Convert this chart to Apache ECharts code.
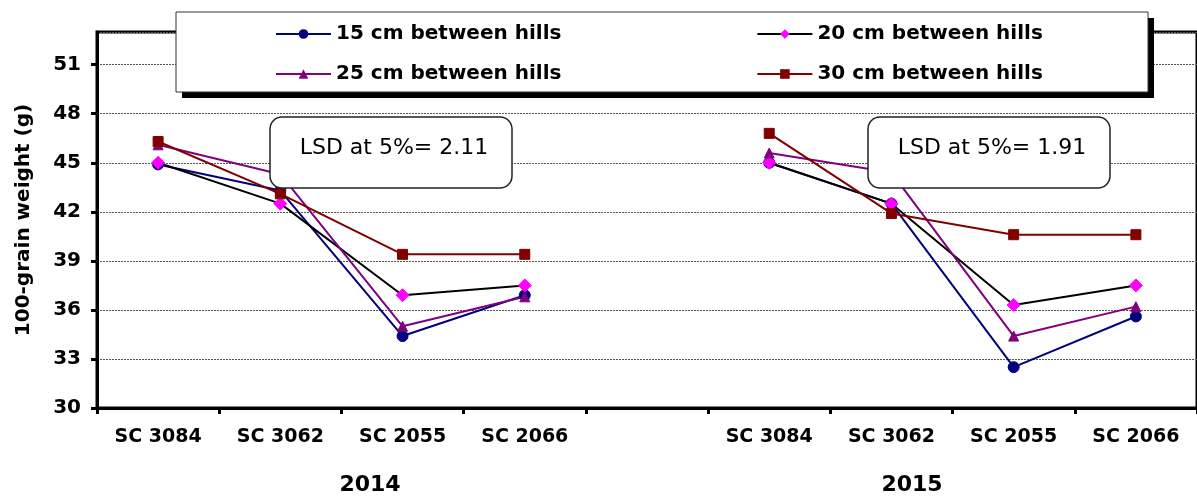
<!DOCTYPE html>
<html><head><meta charset="utf-8">
<script src="https://cdn.jsdelivr.net/npm/echarts@6/dist/echarts.min.js"></script>
<style>html,body{margin:0;padding:0;background:#fff}#c{width:1197px;height:498px}</style>
</head><body><div id="c"></div>
<script>
var categories = ['SC 3084','SC 3062','SC 2055','SC 2066','','SC 3084','SC 3062','SC 2055','SC 2066'];
var seriesNames = ['15 cm between hills','20 cm between hills','25 cm between hills','30 cm between hills'];
var s15 = [44.9, 43.3, 34.4, 36.9, null, 45.0, 42.5, 32.5, 35.6];
var s20 = [45.0, 42.5, 36.9, 37.5, null, 45.0, 42.5, 36.3, 37.5];
var s25 = [46.1, 44.3, 35.0, 36.8, null, 45.6, 44.4, 34.4, 36.2];
var s30 = [46.3, 43.1, 39.4, 39.4, null, 46.8, 41.9, 40.6, 40.6];
var yearLabels = ['2014', '2015'];
var lsdLabels = ['LSD at 5%= 2.11', 'LSD at 5%= 1.91'];
var yTitle = '100-grain weight (g)';

var F = '"DejaVu Sans", sans-serif';
var chart = echarts.init(document.getElementById('c'));

function mk(name, data, lineColor, symbol, symColor, size) {
  return {
    name: name, type: 'line', data: data, connectNulls: false,
    symbol: symbol, symbolSize: size,
    lineStyle: { color: lineColor, width: 2 },
    itemStyle: { color: symColor, borderColor: symColor },
    emphasis: { disabled: true }, z: 3
  };
}

var legendText = { fontFamily: F, fontWeight: 'bold', fontSize: 20, color: '#000' };

chart.setOption({
  animation: false,
  grid: { left: 97, top: 32, bottom: 90, right: -7, show: true, borderColor: '#000', borderWidth: 3, backgroundColor: 'transparent' },
  xAxis: {
    type: 'category', data: categories, boundaryGap: true,
    axisLine: { lineStyle: { color: '#000', width: 3 } },
    axisTick: { show: true, length: 6, lineStyle: { color: '#000', width: 3 } },
    axisLabel: { fontFamily: F, fontWeight: 'bold', fontSize: 19, color: '#000', margin: 20, interval: 0 }
  },
  yAxis: {
    type: 'value', min: 30, max: 53, interval: 3,
    name: yTitle, nameLocation: 'middle', nameGap: 63, nameRotate: 90,
    nameTextStyle: { fontFamily: F, fontWeight: 'bold', fontSize: 20, color: '#000' },
    axisLine: { show: true, lineStyle: { color: '#000', width: 3 } },
    axisTick: { show: true, length: 6, lineStyle: { color: '#000', width: 3 } },
    axisLabel: { fontFamily: F, fontWeight: 'bold', fontSize: 20, color: '#000', margin: 16, showMaxLabel: false,
      formatter: function (v) { return v % 3 === 0 ? String(v) : ''; } },
    splitLine: { show: true, lineStyle: { color: '#555', width: 1, type: [2, 1] } }
  },
  legend: [
    { data: [seriesNames[0], seriesNames[1]], left: 275, top: 24, padding: 0, itemGap: 195, itemWidth: 55, itemHeight: 12, textStyle: legendText, z: 30, selectedMode: false },
    { data: [seriesNames[2], seriesNames[3]], left: 275, top: 64, padding: 0, itemGap: 195, itemWidth: 55, itemHeight: 12, textStyle: legendText, z: 30, selectedMode: false }
  ],
  graphic: [
    { type: 'rect', z: 20, shape: { x: 182, y: 18, width: 972, height: 80 }, style: { fill: '#000' } },
    { type: 'rect', z: 21, shape: { x: 176, y: 12, width: 972, height: 80 }, style: { fill: '#fff', stroke: '#333', lineWidth: 1 } },
    { type: 'rect', z: 20, shape: { x: 270, y: 117, width: 242, height: 71, r: 12 }, style: { fill: '#fff', stroke: '#222', lineWidth: 1.5 } },
    { type: 'text', z: 21, x: 394, y: 148, style: { text: lsdLabels[0], font: '22px "DejaVu Sans", sans-serif', fill: '#000', align: 'center', verticalAlign: 'middle' } },
    { type: 'rect', z: 20, shape: { x: 868, y: 117, width: 242, height: 71, r: 12 }, style: { fill: '#fff', stroke: '#222', lineWidth: 1.5 } },
    { type: 'text', z: 21, x: 992, y: 148, style: { text: lsdLabels[1], font: '22px "DejaVu Sans", sans-serif', fill: '#000', align: 'center', verticalAlign: 'middle' } },
    { type: 'text', z: 21, x: 370, y: 485, style: { text: yearLabels[0], font: 'bold 22px ' + F, fill: '#000', align: 'center', verticalAlign: 'middle' } },
    { type: 'text', z: 21, x: 912, y: 485, style: { text: yearLabels[1], font: 'bold 22px ' + F, fill: '#000', align: 'center', verticalAlign: 'middle' } }
  ],
  series: [
    mk(seriesNames[0], s15, '#000080', 'circle', '#000080', 11),
    mk(seriesNames[1], s20, '#000000', 'diamond', '#FF00FF', 13),
    mk(seriesNames[2], s25, '#800080', 'triangle', '#800080', 10),
    mk(seriesNames[3], s30, '#800000', 'rect', '#800000', 10)
  ]
});
</script>
</body></html>
